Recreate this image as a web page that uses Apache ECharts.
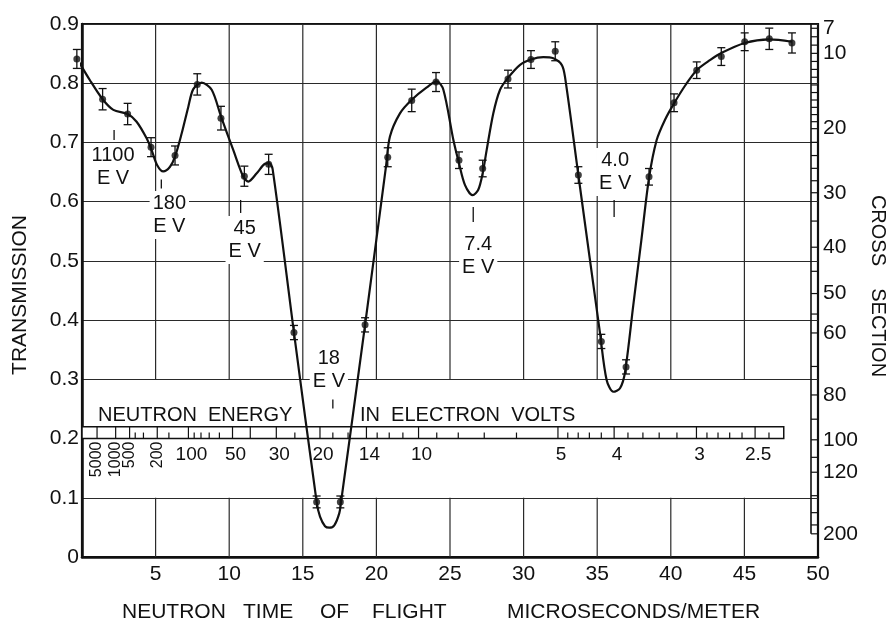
<!DOCTYPE html>
<html>
<head>
<meta charset="utf-8">
<title>Neutron transmission</title>
<script src="https://cdn.jsdelivr.net/npm/echarts@6/dist/echarts.min.js"></script>
<style>
  html, body { margin: 0; padding: 0; background: #fff; }
  #chart { width: 889px; height: 625px; }
</style>
</head>
<body>
<div id="chart"></div>
<script>
// Measured transmission (time of flight in microseconds/meter)
const tofPoints = [-0.35, 1.40, 3.10, 4.69, 6.32, 7.83, 9.44, 11.03, 12.68, 14.40, 15.94, 17.55, 19.23, 20.77, 22.40, 24.05, 25.61, 27.22, 28.94, 30.50, 32.15, 33.72, 35.28, 36.96, 38.52, 40.22, 41.76, 43.43, 45.02, 46.69, 48.23];
const transPoints = [0.841, 0.773, 0.748, 0.692, 0.678, 0.798, 0.741, 0.643, 0.663, 0.379, 0.093, 0.093, 0.392, 0.675, 0.771, 0.802, 0.670, 0.656, 0.807, 0.840, 0.854, 0.645, 0.364, 0.321, 0.642, 0.767, 0.822, 0.845, 0.870, 0.875, 0.868];
const transErrors = [0.016, 0.018, 0.018, 0.016, 0.016, 0.018, 0.020, 0.017, 0.017, 0.012, 0.010, 0.010, 0.012, 0.016, 0.019, 0.016, 0.014, 0.014, 0.015, 0.015, 0.016, 0.014, 0.012, 0.012, 0.014, 0.015, 0.014, 0.015, 0.015, 0.018, 0.017];

// Hand-fitted curve through the measurements
const tofCurve = [-0.35, 0.54, 1.40, 2.13, 3.10, 3.71, 4.39, 4.73, 5.10, 5.52, 5.98, 6.32, 6.77, 7.22, 7.56, 8.13, 8.81, 9.44, 10.28, 10.96, 11.30, 11.87, 12.43, 12.72, 12.95, 14.40, 15.94, 16.17, 16.51, 16.80, 17.14, 17.48, 17.60, 19.23, 20.65, 20.92, 21.60, 22.40, 23.42, 24.10, 24.55, 25.23, 25.61, 26.02, 26.54, 26.92, 27.22, 27.49, 27.94, 28.40, 28.94, 29.76, 30.50, 31.34, 32.02, 32.59, 32.81, 33.72, 35.19, 35.64, 36.10, 36.55, 36.89, 37.45, 38.00, 38.52, 39.04, 39.60, 40.22, 41.00, 41.76, 42.66, 43.43, 45.02, 46.69, 48.23];
const transCurve = [0.842, 0.805, 0.773, 0.755, 0.748, 0.735, 0.707, 0.687, 0.662, 0.651, 0.659, 0.676, 0.715, 0.760, 0.790, 0.801, 0.789, 0.744, 0.687, 0.642, 0.634, 0.648, 0.664, 0.665, 0.655, 0.379, 0.093, 0.068, 0.052, 0.0495, 0.0535, 0.074, 0.093, 0.392, 0.659, 0.710, 0.749, 0.772, 0.793, 0.803, 0.789, 0.704, 0.665, 0.628, 0.611, 0.620, 0.648, 0.687, 0.749, 0.789, 0.809, 0.831, 0.840, 0.844, 0.842, 0.831, 0.811, 0.645, 0.378, 0.299, 0.279, 0.285, 0.312, 0.425, 0.535, 0.640, 0.704, 0.738, 0.766, 0.797, 0.822, 0.839, 0.851, 0.868, 0.874, 0.870];

// Resonances marked on the curve (eV)
const resonanceEnergies = [1100, 180, 45, 18, 7.4, 4.0];
const resonanceLabels = ['1100\nE V', '180\nE V', '45\nE V', '18\nE V', '7.4\nE V', '4.0\nE V'];

// Neutron energy scale (eV)
const energyMajor = [5000, 1000, 500, 200, 100, 50, 40, 30, 20, 14, 10, 5, 4, 3, 2.5];
const energyMinor = [400, 300, 150, 90, 80, 70, 60, 25, 18, 16, 13, 12, 11, 9, 8, 7, 6, 4.8, 4.6, 4.4, 4.2, 3.8, 3.6, 3.4, 3.2, 2.9, 2.8, 2.7, 2.6, 2.4];
const energyLabelValues = [5000, 1000, 500, 200, 100, 50, 30, 20, 14, 10, 5, 4, 3, 2.5];
const energyLabelText = ['5000', '1000', '500', '200', '100', '50', '30', '20', '14', '10', '5', '4', '3', '2.5'];
const energyScaleEnd = 2.3;

// Cross section scale (barns)
const sigmaLabels = [7, 10, 20, 30, 40, 50, 60, 80, 100, 120, 200];
const sigmaRungs = [7, 8, 9, 10, 11, 12, 13, 14, 15, 16, 17, 18, 19, 20, 22, 24, 26, 28, 30, 35, 40, 45, 50, 55, 60, 70, 80, 90, 100, 110, 120, 140, 160, 180, 200];

// Axis ticks
const xGridTicks = [5, 10, 15, 20, 25, 30, 35, 40, 45];

// Conversions between the scales
const energyToTof = e => 72.3 / Math.sqrt(e);
const SIGMA_K = 0.0162;
const sigmaToTrans = s => Math.exp(-SIGMA_K * s);

const FONT = '"Liberation Sans", Arial, sans-serif';
const INK = '#111';

// Placement of the resonance markers: tick centre, tick length, text centre, x shift
const resonanceLayout = [
  { tick: 0.7126, len: 10, text: 0.6586, dx: -1 },
  { tick: 0.6299, len: 9,  text: 0.5775, dx: 8 },
  { tick: 0.5919, len: 13, text: 0.5353, dx: 4 },
  { tick: 0.2584, len: 9,  text: 0.3158, dx: -4 },
  { tick: 0.5783, len: 15, text: 0.5083, dx: 5 },
  { tick: 0.5885, len: 17, text: 0.6501, dx: 1 }
];

const chart = echarts.init(document.getElementById('chart'), null, { renderer: 'canvas' });

const splitColors = [];
for (let i = 0; i <= 9; i++) splitColors.push(i === 2 ? 'rgba(0,0,0,0)' : '#2a2a2a');

const option = {
  backgroundColor: '#fff',
  animation: false,
  grid: { left: 82, right: 71, top: 24, bottom: 68, show: true, borderColor: INK, borderWidth: 2.2, backgroundColor: 'transparent' },
  xAxis: {
    type: 'value', min: 0, max: 50, interval: 5,
    axisLine: { show: true, lineStyle: { color: INK, width: 2.5 } },
    axisTick: { show: false },
    splitLine: { show: false },
    axisLabel: {
      margin: 7, color: INK, fontFamily: FONT, fontSize: 21,
      formatter: v => (v === 0 ? '' : String(v))
    }
  },
  yAxis: {
    type: 'value', min: 0, max: 0.9, interval: 0.1,
    axisLine: { show: true, lineStyle: { color: INK, width: 2.5 } },
    axisTick: { show: false },
    splitLine: { show: true, lineStyle: { color: splitColors, width: 1.2 } },
    axisLabel: {
      margin: 3, color: INK, fontFamily: FONT, fontSize: 21,
      formatter: v => (v === 0 ? '0' : v.toFixed(1))
    }
  },
  graphic: [
    { type: 'text', x: 20, y: 295, rotation: Math.PI / 2,
      style: { text: 'TRANSMISSION', fill: INK, font: '21px ' + FONT, align: 'center', verticalAlign: 'middle' } },
    { type: 'text', x: 878, y: 286, rotation: -Math.PI / 2,
      style: { text: 'CROSS    SECTION', fill: INK, font: '20px ' + FONT, align: 'center', verticalAlign: 'middle' } },
    { type: 'text', x: 122, y: 612, style: { text: 'NEUTRON', fill: INK, font: '21px ' + FONT, align: 'left', verticalAlign: 'middle' } },
    { type: 'text', x: 243, y: 612, style: { text: 'TIME', fill: INK, font: '21px ' + FONT, align: 'left', verticalAlign: 'middle' } },
    { type: 'text', x: 320, y: 612, style: { text: 'OF', fill: INK, font: '21px ' + FONT, align: 'left', verticalAlign: 'middle' } },
    { type: 'text', x: 372, y: 612, style: { text: 'FLIGHT', fill: INK, font: '21px ' + FONT, align: 'left', verticalAlign: 'middle' } },
    { type: 'text', x: 507, y: 612, style: { text: 'MICROSECONDS/METER', fill: INK, font: '21px ' + FONT, align: 'left', verticalAlign: 'middle' } },
    { type: 'text', x: 98, y: 415, style: { text: 'NEUTRON  ENERGY', fill: INK, font: '20px ' + FONT, align: 'left', verticalAlign: 'middle' } },
    { type: 'text', x: 360, y: 415, style: { text: 'IN  ELECTRON  VOLTS', fill: INK, font: '20px ' + FONT, align: 'left', verticalAlign: 'middle' } }
  ],
  series: [
    // vertical grid lines, interrupted across the energy scale
    {
      type: 'custom', z: 1, silent: true,
      data: xGridTicks.map(t => [t, 0]),
      renderItem: (params, api) => {
        const t = api.value(0);
        const a1 = api.coord([t, 0.9]), a2 = api.coord([t, 0.3]);
        const b1 = api.coord([t, 0.1]), b2 = api.coord([t, 0]);
        const st = { stroke: '#2a2a2a', lineWidth: 1.2 };
        return { type: 'group', children: [
          { type: 'line', shape: { x1: a1[0], y1: a1[1], x2: a2[0], y2: a2[1] }, style: st },
          { type: 'line', shape: { x1: b1[0], y1: b1[1], x2: b2[0], y2: b2[1] }, style: st }
        ] };
      }
    },
    // energy scale band
    {
      type: 'custom', z: 2, silent: true,
      data: [[0, 0.2]],
      renderItem: (params, api) => {
        const p0 = api.coord([0, 0.22]);
        const p1 = api.coord([energyToTof(energyScaleEnd), 0.2]);
        return { type: 'rect', shape: { x: p0[0], y: p0[1], width: p1[0] - p0[0], height: p1[1] - p0[1] },
          style: { fill: '#fff', stroke: INK, lineWidth: 1.5 } };
      }
    },
    {
      type: 'custom', z: 3, silent: true,
      data: energyMajor.map(e => [energyToTof(e), 1]).concat(energyMinor.map(e => [energyToTof(e), 0])),
      renderItem: (params, api) => {
        const t = api.value(0);
        const major = api.value(1) === 1;
        const bottom = api.coord([t, 0.2]);
        const top = api.coord([t, 0.22]);
        const y2 = major ? top[1] : bottom[1] - 6;
        return { type: 'line', shape: { x1: bottom[0], y1: bottom[1], x2: bottom[0], y2: y2 },
          style: { stroke: INK, lineWidth: 1.2 } };
      }
    },
    {
      type: 'custom', z: 3, silent: true,
      data: energyLabelValues.map((e, i) => [energyToTof(e), 0.2, i]),
      renderItem: (params, api) => {
        const i = api.value(2);
        const p = api.coord([api.value(0), 0.2]);
        const e = energyLabelValues[i];
        if (e >= 200) {
          return { type: 'text', x: p[0], y: p[1] + 3, rotation: Math.PI / 2,
            style: { text: energyLabelText[i], fill: INK, font: '16px ' + FONT, align: 'right', verticalAlign: 'middle' } };
        }
        return { type: 'text', x: p[0] + 3, y: p[1] + 16,
          style: { text: energyLabelText[i], fill: INK, font: '19px ' + FONT, align: 'center', verticalAlign: 'middle' } };
      }
    },
    // cross section ladder on the right edge
    {
      type: 'custom', z: 3, silent: true,
      data: sigmaRungs.map(s => [50, sigmaToTrans(s)]),
      renderItem: (params, api) => {
        const p = api.coord([50, api.value(1)]);
        const children = [
          { type: 'line', shape: { x1: p[0] - 7, y1: p[1], x2: p[0], y2: p[1] }, style: { stroke: INK, lineWidth: 1.2 } }
        ];
        if (params.dataIndex === 0) {
          const top = api.coord([50, 0.9]);
          const bot = api.coord([50, sigmaToTrans(sigmaRungs[sigmaRungs.length - 1])]);
          children.push({ type: 'line', shape: { x1: top[0] - 7, y1: top[1], x2: bot[0] - 7, y2: bot[1] },
            style: { stroke: INK, lineWidth: 1.6 } });
        }
        return { type: 'group', children };
      }
    },
    {
      type: 'custom', z: 3, silent: true,
      data: sigmaLabels.map(s => [50, sigmaToTrans(s), s]),
      renderItem: (params, api) => {
        const p = api.coord([50, api.value(1)]);
        return { type: 'text', x: p[0] + 5, y: p[1],
          style: { text: String(api.value(2)), fill: INK, font: '21px ' + FONT, align: 'left', verticalAlign: 'middle' } };
      }
    },
    // resonance markers
    {
      type: 'custom', z: 2, silent: true,
      data: resonanceEnergies.map((e, i) => [energyToTof(e), resonanceLayout[i].tick, i]),
      renderItem: (params, api) => {
        const i = api.value(2);
        const L = resonanceLayout[i];
        const t = api.value(0);
        const pt = api.coord([t, L.tick]);
        const ptx = api.coord([t, L.text]);
        return { type: 'group', children: [
          { type: 'text', x: ptx[0] + L.dx, y: ptx[1],
            style: { text: resonanceLabels[i], fill: INK, font: '20px ' + FONT, align: 'center', verticalAlign: 'middle',
              lineHeight: 23, backgroundColor: '#fff', padding: [1, 3] } },
          { type: 'line', shape: { x1: pt[0], y1: pt[1] - L.len / 2, x2: pt[0], y2: pt[1] + L.len / 2 },
            style: { stroke: INK, lineWidth: 1.3 } }
        ] };
      }
    },
    // fitted curve
    {
      type: 'line', z: 5, clip: false, silent: true,
      data: tofCurve.map((t, i) => [t, transCurve[i]]),
      smooth: 0.3, showSymbol: false, symbol: 'none',
      lineStyle: { color: INK, width: 2.2 }
    },
    // error bars
    {
      type: 'custom', z: 6, silent: true,
      data: tofPoints.map((t, i) => [t, transPoints[i], transErrors[i]]),
      renderItem: (params, api) => {
        const t = api.value(0), v = api.value(1), e = api.value(2);
        const hi = api.coord([t, v + e]), lo = api.coord([t, v - e]);
        const st = { stroke: INK, lineWidth: 1.3 };
        return { type: 'group', children: [
          { type: 'line', shape: { x1: hi[0], y1: hi[1], x2: lo[0], y2: lo[1] }, style: st },
          { type: 'line', shape: { x1: hi[0] - 4, y1: hi[1], x2: hi[0] + 4, y2: hi[1] }, style: st },
          { type: 'line', shape: { x1: lo[0] - 4, y1: lo[1], x2: lo[0] + 4, y2: lo[1] }, style: st }
        ] };
      }
    },
    // measured points
    {
      type: 'scatter', z: 7, clip: false, silent: true,
      data: tofPoints.map((t, i) => [t, transPoints[i]]),
      symbol: 'circle', symbolSize: 7,
      itemStyle: { color: INK }
    }
  ]
};

chart.setOption(option);
</script>
</body>
</html>
